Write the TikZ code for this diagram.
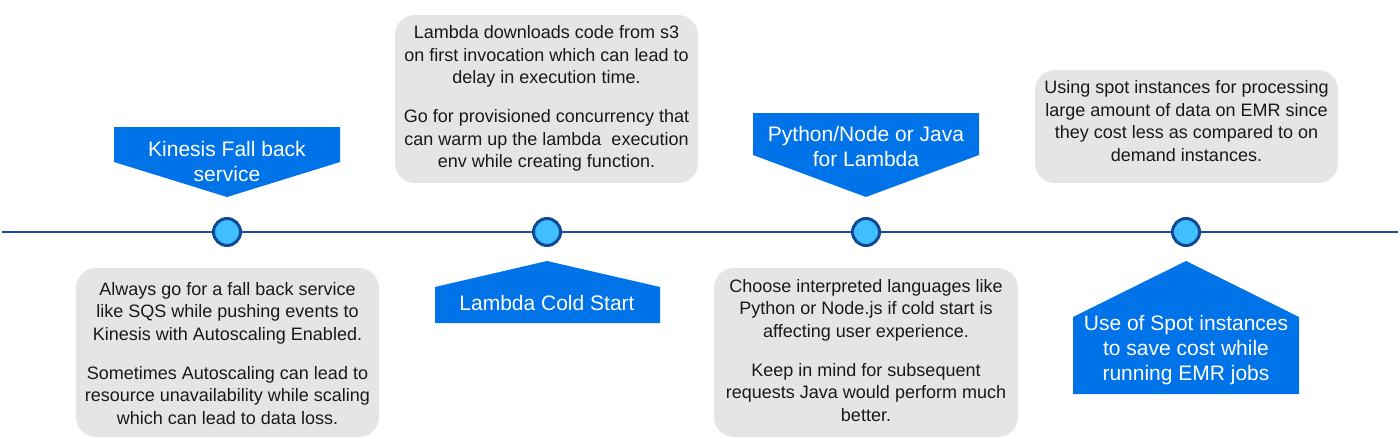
\documentclass[tikz,border=0pt]{standalone}
\usepackage{fontspec}
\setmainfont{Liberation Sans}
\definecolor{boxgray}{RGB}{229,229,229}
\definecolor{labelblue}{RGB}{0,115,232}
\definecolor{dotfill}{RGB}{64,190,255}
\definecolor{dotedge}{RGB}{14,72,150}
\definecolor{linecol}{RGB}{28,72,160}
\begin{document}
\begin{tikzpicture}[x=1pt,y=-1pt,
  note/.style={fill=boxgray,rounded corners=20pt,inner sep=0pt},
  notetext/.style={align=center,inner sep=0pt,
    font=\fontsize{18}{22.5}\selectfont,text=black!90},
  tag/.style={align=center,text=white,font=\fontsize{21}{25}\selectfont,inner sep=0pt},
  tagshape/.style={fill=labelblue},
  dot/.style={circle,draw=dotedge,line width=3pt,fill=dotfill,minimum size=27pt,inner sep=0pt},
  timeline/.style={draw=linecol,line width=2.5pt}]
\useasboundingbox (0,0) rectangle (1400,439);
% timeline
\coordinate (L) at (2,232);
\coordinate (R) at (1398,232);
\draw[timeline] (L) -- (R);
\node[dot] (d1) at (227,232) {};
\node[dot] (d2) at (547,232) {};
\node[dot] (d3) at (866,232) {};
\node[dot] (d4) at (1186,232) {};
% gray notes
\node[note,minimum width=303pt,minimum height=169pt] (n1) at (227.5,352.5) {};
\node[notetext] (n1t) at (227.5,353.5)
 {Always go for a fall back service\\like SQS while pushing events to\\Kinesis with Autoscaling Enabled.\\[16.5pt]Sometimes Autoscaling can lead to\\resource unavailability while scaling\\which can lead to data loss.};
\node[note,minimum width=303pt,minimum height=168pt] (n2) at (546.5,99) {};
\node[notetext] (n2t) at (546.5,98.5)
 {Lambda downloads code from s3\\on first invocation which can lead to\\delay in execution time.\\[16.5pt]Go for provisioned concurrency that\\can warm up the lambda\ \ execution\\env while creating function.};
\node[note,minimum width=304pt,minimum height=169pt] (n3) at (866,352.5) {};
\node[notetext] (n3t) at (866,350.5)
 {Choose interpreted languages like\\Python or Node.js if cold start is\\affecting user experience.\\[16.5pt]Keep in mind for subsequent\\requests Java would perform much\\better.};
\node[note,minimum width=303pt,minimum height=113pt] (n4) at (1186.5,126.5) {};
\node[notetext] (n4t) at (1186.5,121)
 {Using spot instances for processing\\large amount of data on EMR since\\they cost less as compared to on\\demand instances.};
% blue tags
\fill[tagshape] (114,127) -- (340,127) -- (340,162) -- (227,197) -- (114,162) -- cycle;
\node[tag] (t1) at (227,161.5) {Kinesis Fall back\\service};
\fill[tagshape] (435,323) -- (660,323) -- (660,287) -- (547,261) -- (435,287) -- cycle;
\node[tag] (t2) at (547,303) {Lambda Cold Start};
\fill[tagshape] (753,113) -- (979,113) -- (979,155) -- (866,197) -- (753,155) -- cycle;
\node[tag] (t3) at (866,146.5) {Python/Node or Java\\for Lambda};
\fill[tagshape] (1073,394) -- (1299,394) -- (1299,317) -- (1186,261) -- (1073,317) -- cycle;
\node[tag] (t4) at (1186,350) {Use of Spot instances\\to save cost while\\running EMR jobs};
\end{tikzpicture}
\end{document}
